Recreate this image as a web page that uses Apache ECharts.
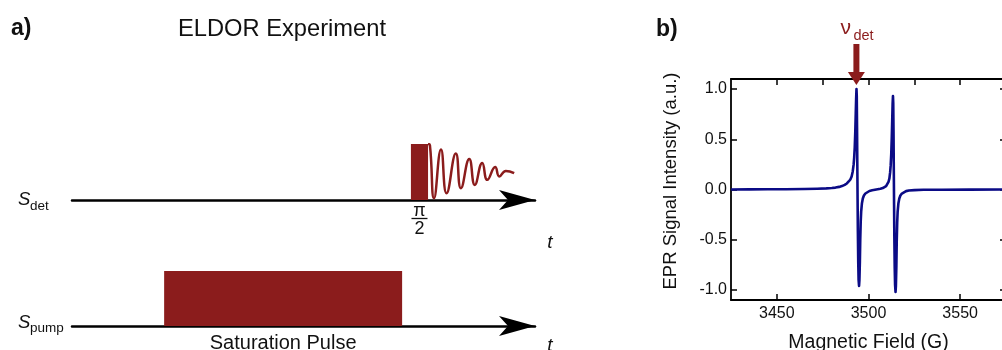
<!DOCTYPE html>
<html>
<head>
<meta charset="utf-8">
<script src="https://cdn.jsdelivr.net/npm/echarts@6.0.0/dist/echarts.min.js"></script>
<style>
  html, body { margin: 0; padding: 0; background: #ffffff; }
  #chart { width: 1002px; height: 350px; }
</style>
</head>
<body>
<div id="chart"></div>
<script>
// ---- EPR spectrum (panel b) ----
const fieldGauss = [
  3425, 3435, 3445, 3455, 3465, 3472, 3477, 3480, 3482, 3484, 3485.5, 3487, 3488.2, 3489.2,
  3490.1, 3490.8, 3491.4, 3491.9, 3492.2, 3492.5, 3492.8, 3493.05, 3493.25, 3493.45, 3493.6,
  3493.75, 3493.9, 3494.05, 3494.2, 3494.4, 3494.6, 3494.85, 3495.05, 3495.3, 3495.5, 3495.75,
  3496.0, 3496.4, 3496.9, 3497.5, 3498.3, 3499.3, 3500.5, 3502, 3503.5, 3505, 3506.5, 3507.8,
  3508.8, 3509.6, 3510.3, 3510.9, 3511.4, 3511.8, 3512.1, 3512.4, 3512.7, 3512.95, 3513.15,
  3513.35, 3513.5, 3513.65, 3513.8, 3513.95, 3514.1, 3514.3, 3514.5, 3514.75, 3514.95, 3515.2,
  3515.4, 3515.65, 3515.9, 3516.3, 3516.8, 3517.4, 3518.2, 3519.2, 3520.5, 3522, 3525, 3530,
  3540, 3555, 3575
];
const eprIntensity = [
  0, 0.001, 0.002, 0.003, 0.005, 0.008, 0.011, 0.015, 0.019, 0.026, 0.034, 0.046, 0.06, 0.08,
  0.10, 0.13, 0.18, 0.25, 0.32, 0.42, 0.58, 0.76, 0.90, 1.0, 0.93,
  0.62, 0.25, -0.1, -0.42, -0.72, -0.9, -0.96, -0.9, -0.72, -0.5, -0.32,
  -0.22, -0.14, -0.09, -0.06, -0.04, -0.025, -0.015, -0.008, -0.003, 0.002, 0.007, 0.014,
  0.022, 0.033, 0.05, 0.075, 0.11, 0.17, 0.24, 0.35, 0.52, 0.70, 0.85,
  0.93, 0.86, 0.58, 0.2, -0.15, -0.48, -0.78, -0.95, -1.02, -0.96, -0.76,
  -0.52, -0.33, -0.22, -0.14, -0.09, -0.06, -0.04, -0.025, -0.016, -0.01, -0.006, -0.003,
  -0.002, -0.001, 0
];
const fieldLabelTicks = [3450, 3500, 3550];
const fieldTopTicks = [3450, 3475, 3500, 3525, 3550];
const intensityTicks = [-1, -0.5, 0, 0.5, 1];
const detectionField = 3493.4;

// ---- Pulse sequence (panel a), time in arbitrary units ----
const detPulse = [73.2, 76.9, 1];     // start, end, amplitude
const pumpPulse = [19.9, 71.3, 1];
const fidTime = [76.9, 77.3, 78.2, 79.7, 80.9, 82.9, 84.0, 85.8, 87.0, 88.6, 89.7, 91.4, 92.3, 93.7, 95.5];
const fidSignal = [1.0, 0.98, 0.03, 0.90, 0.12, 0.83, 0.21, 0.73, 0.27, 0.66, 0.36, 0.59, 0.42, 0.52, 0.48];

const FONT = '"Liberation Sans", Arial, Helvetica, sans-serif';
const RED = '#8b1c1c';
const NAVY = '#0b0b86';
const INK = '#111111';

const chart = echarts.init(document.getElementById('chart'), null, { renderer: 'canvas' });

function txt(x, y, text, size, opts) {
  opts = opts || {};
  return {
    type: 'text', x: x, y: y, rotation: opts.rotation || 0, z: 20,
    style: {
      text: text,
      font: (opts.style || '') + ' ' + (opts.weight || 'normal') + ' ' + size + 'px ' + FONT,
      fill: opts.fill || INK,
      align: opts.align || 'left', textAlign: opts.align || 'left',
      verticalAlign: 'middle', textVerticalAlign: 'middle'
    }
  };
}

function renderPulse(kind) {
  return function (params, api) {
    const p0 = api.coord([api.value(0), 0]);
    const p1 = api.coord([api.value(1), api.value(2)]);
    const cx = (p0[0] + p1[0]) / 2;
    const base = p0[1];
    const children = [{
      type: 'rect',
      shape: { x: p0[0], y: p1[1], width: p1[0] - p0[0], height: base - p1[1] },
      style: { fill: RED }
    }];
    if (kind === 'det') {
      children.push(txt(cx, base + 11, 'π', 18, { align: 'center' }));
      children.push({ type: 'line', shape: { x1: cx - 8, y1: base + 18.5, x2: cx + 8, y2: base + 18.5 },
        style: { stroke: INK, lineWidth: 1.3 } });
      children.push(txt(cx, base + 29.5, '2', 18, { align: 'center' }));
    } else {
      children.push(txt(cx, base + 17, 'Saturation Pulse', 20, { align: 'center' }));
    }
    return { type: 'group', children: children };
  };
}

function renderDetArrow(params, api) {
  const p = api.coord([api.value(0), api.value(1)]);
  const x = p[0], y = p[1];
  return {
    type: 'group',
    children: [
      { type: 'rect', shape: { x: x - 3, y: y - 35, width: 6, height: 29 }, style: { fill: RED } },
      { type: 'polygon', shape: { points: [[x - 8.5, y - 7], [x + 8.5, y - 7], [x, y + 6]] }, style: { fill: RED } },
      txt(x - 16, y - 51, 'ν', 21, { fill: RED }),
      txt(x - 3, y - 43, 'det', 14.5, { fill: RED })
    ]
  };
}

const timeAxis = function (gridIndex) {
  return {
    type: 'value', gridIndex: gridIndex, min: 0, max: 100,
    axisLine: { show: true, onZero: false, symbol: ['none', 'arrow'], symbolSize: [15, 36],
      lineStyle: { color: '#000', width: 2.5 } },
    axisTick: { show: false }, axisLabel: { show: false }, splitLine: { show: false }
  };
};
const ampAxis = function (gridIndex) {
  return { type: 'value', gridIndex: gridIndex, min: 0, max: 1, show: false };
};

const frameLine = { show: true, onZero: false, lineStyle: { color: '#000', width: 1.8 } };
const plainNumber = function (v) { return String(v); };

const option = {
  animation: false,
  backgroundColor: '#ffffff',
  grid: [
    { left: 731, top: 79, width: 275, height: 221, outerBoundsMode: 'none', containLabel: false },
    { left: 72, top: 144, width: 463, height: 56, outerBoundsMode: 'none', containLabel: false },
    { left: 72, top: 271, width: 463, height: 55, outerBoundsMode: 'none', containLabel: false }
  ],
  xAxis: [
    {
      type: 'value', gridIndex: 0, position: 'bottom', min: 3425, max: 3575,
      axisLine: frameLine,
      axisTick: { show: true, inside: true, length: 6, customValues: fieldLabelTicks,
        lineStyle: { color: '#000', width: 1.5 } },
      axisLabel: { show: true, customValues: fieldLabelTicks, margin: 6, fontSize: 16,
        fontFamily: FONT, color: INK, formatter: plainNumber },
      splitLine: { show: false },
      name: 'Magnetic Field (G)', nameLocation: 'middle', nameGap: 33,
      nameTextStyle: { fontSize: 19.5, fontFamily: FONT, color: INK }
    },
    {
      type: 'value', gridIndex: 0, position: 'top', min: 3425, max: 3575,
      axisLine: frameLine,
      axisTick: { show: true, inside: true, length: 6, customValues: fieldTopTicks,
        lineStyle: { color: '#000', width: 1.5 } },
      axisLabel: { show: false }, splitLine: { show: false }
    },
    timeAxis(1),
    timeAxis(2)
  ],
  yAxis: [
    {
      type: 'value', gridIndex: 0, position: 'left', min: -1.1, max: 1.1,
      axisLine: frameLine,
      axisTick: { show: true, inside: true, length: 6, customValues: intensityTicks,
        lineStyle: { color: '#000', width: 1.5 } },
      axisLabel: { show: true, customValues: intensityTicks, margin: 4, fontSize: 16,
        fontFamily: FONT, color: INK, formatter: function (v) { return v.toFixed(1); } },
      splitLine: { show: false }
    },
    {
      type: 'value', gridIndex: 0, position: 'right', min: -1.1, max: 1.1,
      axisLine: frameLine,
      axisTick: { show: true, inside: true, length: 6, customValues: intensityTicks,
        lineStyle: { color: '#000', width: 1.5 } },
      axisLabel: { show: false }, splitLine: { show: false }
    },
    ampAxis(1),
    ampAxis(2)
  ],
  series: [
    {
      type: 'line', xAxisIndex: 0, yAxisIndex: 0,
      data: fieldGauss.map(function (f, i) { return [f, eprIntensity[i]]; }),
      showSymbol: false, symbol: 'none',
      lineStyle: { color: NAVY, width: 2.6, join: 'round' },
      z: 3
    },
    {
      type: 'custom', xAxisIndex: 0, yAxisIndex: 0, clip: false, z: 10,
      data: [[detectionField, 1.1]],
      renderItem: renderDetArrow
    },
    {
      type: 'custom', xAxisIndex: 2, yAxisIndex: 2, clip: false,
      data: [detPulse],
      renderItem: renderPulse('det')
    },
    {
      type: 'line', xAxisIndex: 2, yAxisIndex: 2,
      data: fidTime.map(function (t, i) { return [t, fidSignal[i]]; }),
      smooth: 0.5, showSymbol: false, symbol: 'none',
      lineStyle: { color: RED, width: 2.5 },
      z: 4
    },
    {
      type: 'custom', xAxisIndex: 3, yAxisIndex: 3, clip: false,
      data: [pumpPulse],
      renderItem: renderPulse('pump')
    }
  ],
  graphic: [
    txt(11, 29, 'a)', 23, { weight: 'bold' }),
    txt(178, 29, 'ELDOR Experiment', 23.7),
    txt(656, 30, 'b)', 23, { weight: 'bold' }),
    txt(671, 181, 'EPR Signal Intensity (a.u.)', 18.5, { align: 'center', rotation: Math.PI / 2 }),
    txt(18, 200, 'S', 18.5, { style: 'italic' }),
    txt(30, 206, 'det', 13.5),
    txt(18, 323, 'S', 18.5, { style: 'italic' }),
    txt(30, 328, 'pump', 13.5),
    txt(550, 243, 't', 19, { style: 'italic', align: 'center' }),
    txt(550, 346, 't', 19, { style: 'italic', align: 'center' })
  ]
};

chart.setOption(option);
</script>
</body>
</html>
